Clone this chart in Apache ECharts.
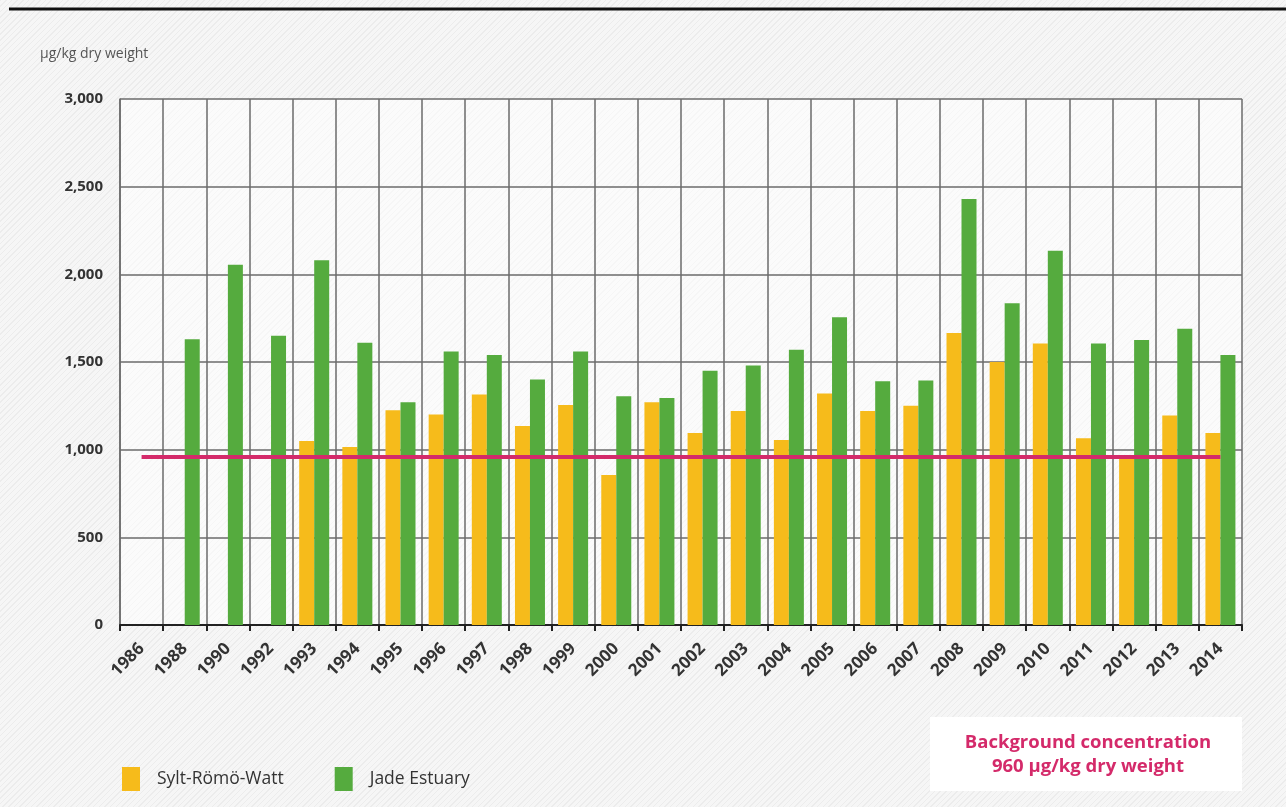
<!DOCTYPE html>
<html>
<head>
<meta charset="utf-8">
<script src="https://cdn.jsdelivr.net/npm/echarts@6/dist/echarts.min.js"></script>
<style>
  html, body { margin: 0; padding: 0; }
  body {
    width: 1286px; height: 807px; overflow: hidden;
    background-color: #f3f3f3;
    background-image: repeating-linear-gradient(135deg, #ececec 0px, #ececec 1px, #f6f6f6 1px, #f6f6f6 4px);
  }
  #main { width: 1286px; height: 807px; }
</style>
</head>
<body>
<div id="main"></div>
<script>
// categories (years) and values, µg/kg dry weight
var years = ['1986', '1988', '1990', '1992', '1993', '1994', '1995', '1996', '1997', '1998', '1999',
             '2000', '2001', '2002', '2003', '2004', '2005', '2006', '2007', '2008', '2009', '2010',
             '2011', '2012', '2013', '2014'];
var syltRomo = [null, null, null, null, 1050, 1015, 1225, 1200, 1315, 1135, 1255,
                855, 1270, 1095, 1220, 1055, 1320, 1220, 1250, 1665, 1500, 1605,
                1065, 965, 1195, 1095];
var jadeEstuary = [null, 1630, 2055, 1650, 2080, 1610, 1270, 1560, 1540, 1400, 1560,
                   1305, 1295, 1450, 1480, 1570, 1755, 1390, 1395, 2430, 1835, 2135,
                   1605, 1625, 1690, 1540];
var backgroundLevel = 960;
var yTicks = [0, 500, 1000, 1500, 2000, 2500, 3000];

var font = '"Open Sans", "Noto Sans", sans-serif';
var myChart = echarts.init(document.getElementById('main'));

myChart.setOption({
    backgroundColor: 'transparent',
    animation: false,
    textStyle: { fontFamily: font },
    title: {
        text: 'µg/kg dry weight',
        left: 35, top: 42,
        textStyle: { fontSize: 14, fontWeight: 'normal', color: '#555', fontFamily: font }
    },
    legend: {
        left: 117, top: 762,
        itemWidth: 18, itemHeight: 24,
        itemGap: 51,
        icon: 'rect',
        textStyle: { fontSize: 17.5, color: '#333', fontFamily: font, padding: [0, 0, 0, 12] },
        data: ['Sylt-Römö-Watt', 'Jade Estuary']
    },
    grid: {
        left: 120, right: 44, top: 99, bottom: 182,
        show: true, backgroundColor: 'rgba(255,255,255,0.55)', borderWidth: 0
    },
    xAxis: {
        type: 'category',
        data: years,
        axisLine: { lineStyle: { color: '#222', width: 2 } },
        axisTick: { show: true, length: 6, lineStyle: { color: '#222', width: 2 } },
        axisLabel: { rotate: 45, margin: 21, fontSize: 17, fontWeight: 'bold', color: '#333', interval: 0 },
        splitLine: { show: true, lineStyle: { color: '#6b6b6b', width: 1.5 } }
    },
    yAxis: {
        type: 'value',
        min: yTicks[0], max: yTicks[yTicks.length - 1], interval: 500,
        axisLine: { show: true, lineStyle: { color: '#6b6b6b', width: 1.5 } },
        axisTick: { show: false },
        axisLabel: {
            margin: 17, fontSize: 15, fontWeight: 'bold', color: '#333',
            formatter: function (v) { return v.toLocaleString('en-US'); }
        },
        splitLine: { show: true, lineStyle: { color: '#6b6b6b', width: 1.5 } }
    },
    series: [
        {
            name: 'Sylt-Römö-Watt',
            type: 'bar',
            barWidth: 15,
            barGap: '0%',
            itemStyle: { color: '#f6bb1b' },
            data: syltRomo
        },
        {
            name: 'Jade Estuary',
            type: 'bar',
            barWidth: 15,
            itemStyle: { color: '#55ab3e' },
            data: jadeEstuary
        },
        {
            name: 'Background concentration',
            type: 'line',
            data: [],
            markLine: {
                silent: true,
                symbol: ['none', 'none'],
                label: { show: false },
                lineStyle: { color: '#d42a6a', width: 4, type: 'solid' },
                data: [[
                    { coord: [years[0], backgroundLevel] },
                    { coord: [years[years.length - 1], backgroundLevel] }
                ]]
            }
        }
    ],
    graphic: [
        {
            type: 'line',
            shape: { x1: 9, y1: 9, x2: 1286, y2: 9 },
            style: { stroke: '#111', lineWidth: 3 }
        },
        {
            type: 'rect',
            shape: { x: 930, y: 717, width: 312, height: 74 },
            style: { fill: '#ffffff' },
            z: 10
        },
        {
            type: 'text',
            x: 1088, y: 731,
            z: 11,
            style: {
                text: 'Background concentration\n960 µg/kg dry weight',
                align: 'center',
                fill: '#d42a6a',
                fontSize: 18.5,
                fontWeight: 'bold',
                fontFamily: font,
                lineHeight: 24
            }
        }
    ]
});
</script>
</body>
</html>
